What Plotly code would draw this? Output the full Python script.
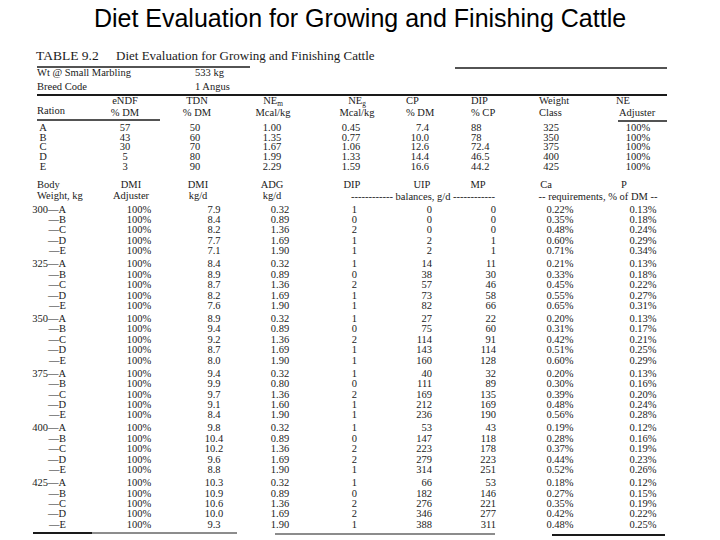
import plotly.graph_objects as go

# ---------------- data ----------------
rations = ["A", "B", "C", "D", "E"]
endf = ["57", "43", "30", "5", "3"]
tdn = ["50", "60", "70", "80", "90"]
ne_m = ["1.00", "1.35", "1.67", "1.99", "2.29"]
ne_g = ["0.45", "0.77", "1.06", "1.33", "1.59"]
cp = ["7.4", "10.0", "12.6", "14.4", "16.6"]
dip_cp = ["88", "78", "72.4", "46.5", "44.2"]
weight_class = ["325", "350", "375", "400", "425"]
ne_adjuster = ["100%", "100%", "100%", "100%", "100%"]

body_weights = ["300", "325", "350", "375", "400", "425"]
dmi_adjuster = [["100%"] * 5 for _ in range(6)]
dmi_kgd = [
    ["7.9", "8.4", "8.2", "7.7", "7.1"],
    ["8.4", "8.9", "8.7", "8.2", "7.6"],
    ["8.9", "9.4", "9.2", "8.7", "8.0"],
    ["9.4", "9.9", "9.7", "9.1", "8.4"],
    ["9.8", "10.4", "10.2", "9.6", "8.8"],
    ["10.3", "10.9", "10.6", "10.0", "9.3"],
]
adg = [
    ["0.32", "0.89", "1.36", "1.69", "1.90"],
    ["0.32", "0.89", "1.36", "1.69", "1.90"],
    ["0.32", "0.89", "1.36", "1.69", "1.90"],
    ["0.32", "0.80", "1.36", "1.60", "1.90"],
    ["0.32", "0.89", "1.36", "1.69", "1.90"],
    ["0.32", "0.89", "1.36", "1.69", "1.90"],
]
dip_bal = [
    ["1", "0", "2", "1", "1"],
    ["1", "0", "2", "1", "1"],
    ["1", "0", "2", "1", "1"],
    ["1", "0", "2", "1", "1"],
    ["1", "0", "2", "2", "1"],
    ["1", "0", "2", "2", "1"],
]
uip_bal = [
    ["0", "0", "0", "2", "2"],
    ["14", "38", "57", "73", "82"],
    ["27", "75", "114", "143", "160"],
    ["40", "111", "169", "212", "236"],
    ["53", "147", "223", "279", "314"],
    ["66", "182", "276", "346", "388"],
]
mp_bal = [
    ["0", "0", "0", "1", "1"],
    ["11", "30", "46", "58", "66"],
    ["22", "60", "91", "114", "128"],
    ["32", "89", "135", "169", "190"],
    ["43", "118", "178", "223", "251"],
    ["53", "146", "221", "277", "311"],
]
ca_req = [
    ["0.22%", "0.35%", "0.48%", "0.60%", "0.71%"],
    ["0.21%", "0.33%", "0.45%", "0.55%", "0.65%"],
    ["0.20%", "0.31%", "0.42%", "0.51%", "0.60%"],
    ["0.20%", "0.30%", "0.39%", "0.48%", "0.56%"],
    ["0.19%", "0.28%", "0.37%", "0.44%", "0.52%"],
    ["0.18%", "0.27%", "0.35%", "0.42%", "0.48%"],
]
p_req = [
    ["0.13%", "0.18%", "0.24%", "0.29%", "0.34%"],
    ["0.13%", "0.18%", "0.22%", "0.27%", "0.31%"],
    ["0.13%", "0.17%", "0.21%", "0.25%", "0.29%"],
    ["0.13%", "0.16%", "0.20%", "0.24%", "0.28%"],
    ["0.12%", "0.16%", "0.19%", "0.23%", "0.26%"],
    ["0.12%", "0.15%", "0.19%", "0.22%", "0.25%"],
]

# ---------------- layout (pixel grid) ----------------
SERIF = "Liberation Serif"
INK = "#1a1a1a"
BODY = 10.5

items = []  # (x, y, text, textposition, size)


def add(x, y, text, pos="middle center", size=BODY):
    items.append((x, y, text, pos, size))


# table caption
add(36, 57, "TABLE 9.2", "middle right", 13.5)
add(116, 57, "Diet Evaluation for Growing and Finishing Cattle", "middle right", 13)
add(37, 73, "Wt @ Small Marbling", "middle right")
add(195, 73, "533 kg", "middle right")
add(37, 87, "Breed Code", "middle right")
add(195, 87, "1 Angus", "middle right")

# upper header
add(37, 111, "Ration", "middle right")
for x, l1, l2, pos in [
    (125, "eNDF", "% DM", "middle center"),
    (197, "TDN", "% DM", "middle center"),
    (273, "NE<sub>m</sub>", "Mcal/kg", "middle center"),
    (357, "NE<sub>g</sub>", "Mcal/kg", "middle center"),
    (406, "CP", "% DM", "middle right"),
    (471, "DIP", "% CP", "middle right"),
    (539, "Weight", "Class", "middle right"),
]:
    add(x, 101, l1, pos)
    add(x, 113, l2, pos)
add(616, 101, "NE", "middle right")
add(619, 113, "Adjuster", "middle right")

upper_cols = [
    (rations, 43, "middle center"),
    (endf, 125, "middle center"),
    (tdn, 195, "middle center"),
    (ne_m, 272, "middle center"),
    (ne_g, 351, "middle center"),
    (cp, 429, "middle left"),
    (dip_cp, 471, "middle right"),
    (weight_class, 551, "middle center"),
    (ne_adjuster, 638, "middle center"),
]
for i in range(5):
    y = 128 + i * 9.9
    for col, x, pos in upper_cols:
        add(x, y, col[i], pos)

# lower header
add(37, 185, "Body", "middle right")
add(37, 196, "Weight, kg", "middle right")
for x, l1, l2 in [(131, "DMI", "Adjuster"), (198, "DMI", "kg/d"), (272, "ADG", "kg/d")]:
    add(x, 185, l1)
    add(x, 196, l2)
add(352, 185, "DIP")
add(422, 185, "UIP")
add(478, 185, "MP")
add(546, 185, "Ca")
add(624, 185, "P")
add(423, 197, "------------ balances, g/d ------------")
add(598, 197, "-- requirements, % of DM --")

for g, bw in enumerate(body_weights):
    for i, r in enumerate(rations):
        y = 210 + g * 54.7 + i * 10.4
        label = (bw + "—" + r) if i == 0 else ("—" + r)
        add(66, y, label, "middle left")
        add(139, y, dmi_adjuster[g][i])
        add(214, y, dmi_kgd[g][i])
        add(280, y, adg[g][i])
        add(357, y, dip_bal[g][i], "middle left")
        add(432, y, uip_bal[g][i], "middle left")
        add(496, y, mp_bal[g][i], "middle left")
        add(560, y, ca_req[g][i])
        add(643, y, p_req[g][i])

fig = go.Figure()
groups = {}
for x, y, t, pos, size in items:
    groups.setdefault((pos, size), []).append((x, y, t))
for (pos, size), pts in groups.items():
    fig.add_trace(go.Scatter(
        x=[p[0] for p in pts], y=[p[1] for p in pts], text=[p[2] for p in pts],
        mode="text", textposition=pos,
        textfont=dict(family=SERIF, size=size, color=INK),
        hoverinfo="skip", showlegend=False,
    ))

# rules
rules = [
    (37, 250, 67, 1.4), (455, 667, 68, 1.4),
    (37, 667, 95, 2.0),
    (37, 160, 120, 1.6), (618, 667, 121, 1.6),
    (33, 92, 533, 2.0), (92, 237, 533, 1.0),
    (275, 495, 534, 1.2), (552, 665, 535, 2.0),
]
for x0, x1, y, w in rules:
    fig.add_shape(type="line", xref="x", yref="y", x0=x0, x1=x1, y0=y, y1=y,
                  line=dict(color=INK, width=w))

fig.update_layout(
    width=720, height=540,
    margin=dict(l=0, r=0, t=0, b=0),
    paper_bgcolor="white", plot_bgcolor="white",
    title=dict(text="Diet Evaluation for Growing and Finishing Cattle",
               x=0.5, xanchor="center", y=1 - 18 / 540, yanchor="middle",
               font=dict(family="Liberation Sans", size=25, color="black")),
    xaxis=dict(range=[0, 720], visible=False, fixedrange=True),
    yaxis=dict(range=[540, 0], visible=False, fixedrange=True),
)

fig.write_html("out.html", config={"displayModeBar": False},
               post_script="document.body.style.margin='0';document.body.style.padding='0';")
